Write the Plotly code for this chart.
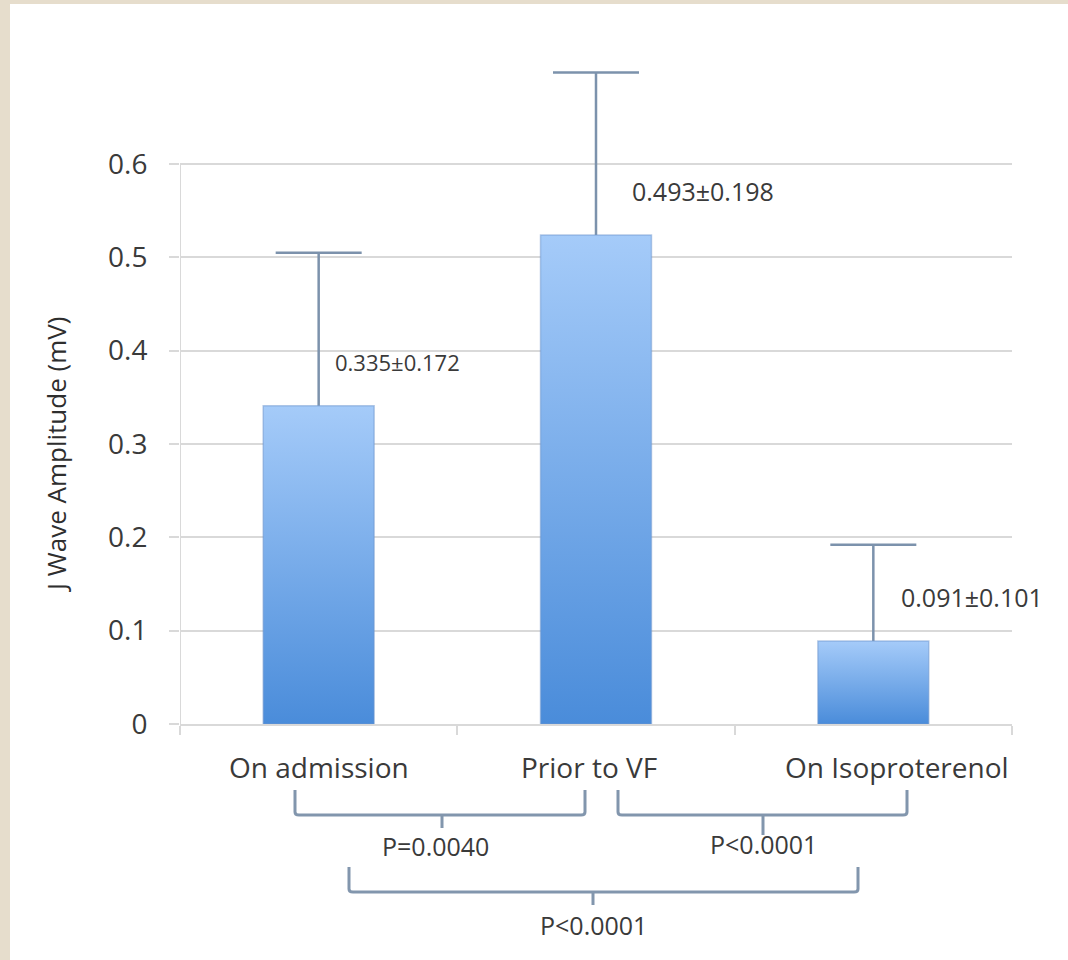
import plotly.graph_objects as go

# ---- data ----
categories = ["On admission", "Prior to VF", "On Isoproterenol"]
means = [0.341, 0.524, 0.089]
err_up = [0.164, 0.174, 0.103]
value_labels = ["0.335±0.172", "0.493±0.198", "0.091±0.101"]
p_labels = ["P=0.0040", "P<0.0001", "P<0.0001"]
y_ticks = [0, 0.1, 0.2, 0.3, 0.4, 0.5, 0.6]
y_ticktext = ["0", "0.1", "0.2", "0.3", "0.4", "0.5", "0.6"]

FONT = "Open Sans"
TXT = "#3A3A3A"
GRID = "#D9D9D9"
ERR = "#7C92AC"
BRK = "#8296AD"

# layout geometry helpers (pixel -> paper / data)
L, R, T, B = 180, 56, 52, 236
W, H = 1068, 960
PW, PH = W - L - R, H - T - B


def px_x(p):  # pixel x -> data x (range -0.5..2.5)
    return (p - L) / PW * 3 - 0.5


def px_xp(p):  # pixel x -> paper x
    return (p - L) / PW


def px_yp(p):  # pixel y -> paper y
    return (H - B - p) / PH


fig = go.Figure()

# error bars (drawn first; the opaque bars drawn afterwards hide the part inside them)
fig.add_trace(go.Scatter(
    x=list(range(len(categories))), y=means, mode="markers",
    marker=dict(size=1, opacity=0), hoverinfo="skip", showlegend=False,
    error_y=dict(type="data", symmetric=False, array=err_up,
                 arrayminus=means, color=ERR,
                 thickness=2.5, width=43),
))

# gradient-filled bars
bw = 0.2
for i, v in enumerate(means):
    fig.add_trace(go.Scatter(
        x=[i - bw, i + bw, i + bw, i - bw, i - bw],
        y=[0, 0, v, v, 0],
        mode="lines", fill="toself",
        line=dict(width=1.5, color="rgba(110,150,205,0.5)"),
        fillgradient=dict(type="vertical",
                          colorscale=[[0, "#4A8CDA"], [1, "#A5CBF9"]]),
        hoverinfo="skip", showlegend=False, name=categories[i],
    ))

shapes = []
# white panel on beige background
shapes.append(dict(type="rect", xref="paper", yref="paper",
                   x0=px_xp(10), x1=px_xp(1100), y0=px_yp(1000), y1=px_yp(4),
                   fillcolor="white", line=dict(width=0), layer="below"))
# vertical axis line (0 .. 0.6)
shapes.append(dict(type="line", xref="x", yref="y", x0=-0.5, x1=-0.5,
                   y0=0, y1=0.6, line=dict(color=GRID, width=2), layer="below"))

# brackets
brackets = [
    # left px, right px, top px, horizontal px, center px, tick-end px
    (295, 585, 790, 815, 442, 828),
    (618, 907, 790, 815, 763, 835),
    (349, 858, 867, 892, 593, 905),
]
for xl, xr, yt, yh, xc, ye in brackets:
    path = (f"M {px_x(xl)},{px_yp(yt)} L {px_x(xl)},{px_yp(yh - 3)} "
            f"Q {px_x(xl)},{px_yp(yh)} {px_x(xl + 4)},{px_yp(yh)} "
            f"L {px_x(xr - 4)},{px_yp(yh)} "
            f"Q {px_x(xr)},{px_yp(yh)} {px_x(xr)},{px_yp(yh - 3)} "
            f"L {px_x(xr)},{px_yp(yt)} "
            f"M {px_x(xc)},{px_yp(yh)} L {px_x(xc)},{px_yp(ye)}")
    shapes.append(dict(type="path", xref="x", yref="paper", path=path,
                       line=dict(color=BRK, width=3)))

annotations = []
# value labels beside bars
xsh = [14, 34, 26]
vsize = [22, 25, 25]
for i, (v, t) in enumerate(zip(means, value_labels)):
    annotations.append(dict(x=i, y=v, xref="x", yref="y", text=t,
                            showarrow=False, xanchor="left", yanchor="middle",
                            xshift=xsh[i], yshift=44,
                            font=dict(family=FONT, size=vsize[i], color=TXT)))
# category labels
cat_shift = [0, -7, 24]
for i, c in enumerate(categories):
    annotations.append(dict(x=i, y=px_yp(767), xref="x", yref="paper", text=c,
                            showarrow=False, xanchor="center", yanchor="middle",
                            xshift=cat_shift[i],
                            font=dict(family=FONT, size=28, color=TXT)))
# p-value labels
p_pos = [(435, 846), (763, 844), (593, 925)]
for (x, y), t in zip(p_pos, p_labels):
    annotations.append(dict(x=px_xp(x), y=px_yp(y), xref="paper", yref="paper",
                            text=t, showarrow=False, xanchor="center",
                            yanchor="middle",
                            font=dict(family=FONT, size=25, color=TXT)))
# y-axis title
annotations.append(dict(x=px_xp(56), y=px_yp(455), xref="paper", yref="paper",
                        text="J Wave Amplitude (mV)", textangle=-90,
                        showarrow=False, xanchor="center", yanchor="middle",
                        font=dict(family=FONT, size=26, color="#2E2E2E")))

fig.update_layout(
    width=W, height=H,
    margin=dict(l=L, r=R, t=T, b=B),
    paper_bgcolor="#E6DDCC", plot_bgcolor="white",
    showlegend=False,
    shapes=shapes, annotations=annotations,
    xaxis=dict(range=[-0.5, 2.5], tickvals=[-0.5, 0.5, 1.5, 2.5],
               showticklabels=False, ticks="outside", ticklen=9,
               tickcolor=GRID, tickwidth=2, showgrid=False, zeroline=False,
               showline=True, linecolor=GRID, linewidth=2, fixedrange=True),
    yaxis=dict(range=[0, 0.72], tickvals=y_ticks, ticktext=y_ticktext,
               showgrid=True, gridcolor=GRID, gridwidth=2, zeroline=False,
               ticks="outside", ticklen=10, tickcolor=GRID, tickwidth=2,
               ticklabelstandoff=16, showline=False,
               tickfont=dict(family=FONT, size=28, color=TXT), fixedrange=True),
)

fig.write_html(
    "out.html",
    config={"displayModeBar": False},
    post_script="document.body.style.margin='0';"
                "document.body.style.background='#E6DDCC';",
)
